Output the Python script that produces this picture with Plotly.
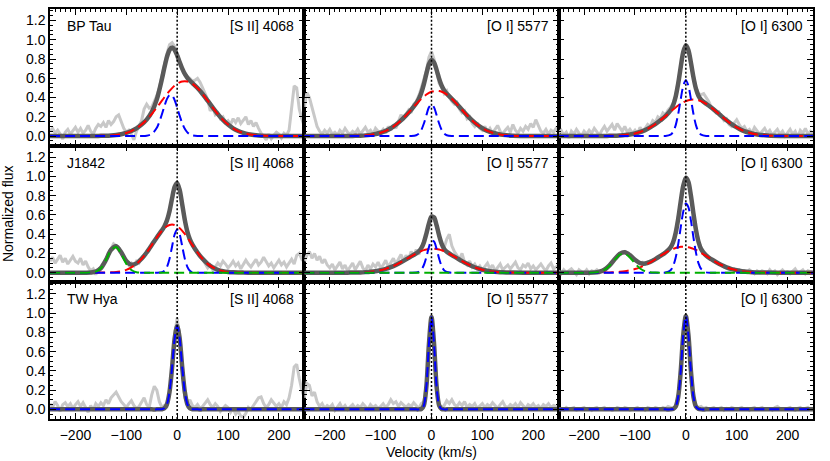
import plotly.graph_objects as go
from plotly.subplots import make_subplots

# ---------------- data ----------------
STARS = ["BP Tau", "J1842", "TW Hya"]
LINES = ["[S II] 4068", "[O I] 5577", "[O I] 6300"]
REST_VELOCITY = 0

V_OBS = list(range(-250, 251, 5))
V_MODEL = [-250, -200, -180, -170, -160, -150, -140, -130, -120, -110,
           -100, -90, -80, -70, -60, -50, -40, -30, -25, -20,
           -15, -10, -5, 0, 5, 10, 15, 20, 25, 30,
           40, 50, 60, 70, 80, 90, 100, 110, 120, 130,
           140, 160, 200, 250]

# observed spectra (grey)
OBS_BPTAU_SII = [0.05, 0.08, 0.03, 0.06, 0.02, -0.03, 0.04, 0.07, 0.02, 0.05,
                 0.09, 0.04, 0.08, 0.03, 0.06, 0.11, 0.05, 0.02, 0.08, 0.12,
                 0.10, 0.14, 0.09, 0.16, 0.12, 0.15, 0.20, 0.22, 0.15, 0.08,
                 0.04, 0.06, 0.02, -0.04, 0.05, 0.10, 0.16, 0.28, 0.33, 0.29,
                 0.30, 0.36, 0.42, 0.50, 0.62, 0.75, 0.86, 0.95, 0.97, 0.93,
                 0.85, 0.76, 0.70, 0.64, 0.62, 0.60, 0.57, 0.58, 0.60, 0.56,
                 0.50, 0.44, 0.38, 0.26, 0.30, 0.22, 0.24, 0.18, 0.20, 0.14,
                 0.16, 0.12, 0.18, 0.14, 0.19, 0.13, 0.17, 0.20, 0.12, 0.16,
                 0.10, 0.14, 0.08, 0.03, 0.00, -0.04, 0.02, -0.03, 0.01, 0.04,
                 0.02, -0.02, 0.03, 0.01, 0.06, 0.30, 0.52, 0.50, 0.28, 0.18,
                 0.10]
OBS_BPTAU_OI5577 = [0.30, 0.45, 0.40, 0.30, 0.22, 0.10, 0.05, 0.02, 0.06, 0.03,
                    0.07, 0.02, 0.04, 0.01, 0.06, 0.03, 0.08, 0.04, 0.02, 0.05,
                    0.03, 0.07, 0.02, 0.05, 0.09, 0.04, 0.06, 0.02, 0.08, 0.05,
                    0.04, 0.07, 0.03, 0.10, 0.06, 0.12, 0.08, 0.15, 0.22, 0.18,
                    0.22, 0.27, 0.24, 0.33, 0.36, 0.42, 0.50, 0.58, 0.68, 0.82,
                    0.88, 0.80, 0.66, 0.55, 0.50, 0.44, 0.47, 0.40, 0.36, 0.33,
                    0.35, 0.28, 0.24, 0.26, 0.18, 0.20, 0.13, 0.10, 0.14, 0.08,
                    0.06, 0.10, 0.04, 0.08, 0.03, 0.07, 0.11, 0.05, 0.02, 0.06,
                    0.09, 0.04, 0.12, 0.06, 0.03, 0.08, 0.05, 0.10, 0.07, 0.13,
                    0.09, 0.17, 0.10, 0.05, 0.03, 0.07, 0.02, 0.06, 0.04, 0.08,
                    0.05]
OBS_BPTAU_OI6300 = [0.03, 0.06, 0.01, 0.04, -0.02, 0.05, 0.02, 0.07, 0.03, 0.00,
                    0.05, 0.02, 0.06, 0.03, 0.08, 0.04, 0.01, 0.06, 0.10, 0.05,
                    0.08, 0.12, 0.06, 0.13, 0.09, 0.05, 0.10, 0.04, 0.07, 0.03,
                    0.06, 0.02, 0.09, 0.05, 0.08, 0.12, 0.10, 0.16, 0.14, 0.20,
                    0.18, 0.24, 0.22, 0.27, 0.30, 0.34, 0.42, 0.56, 0.72, 0.86,
                    0.93, 0.88, 0.75, 0.62, 0.50, 0.44, 0.43, 0.44, 0.40, 0.36,
                    0.30, 0.28, 0.24, 0.25, 0.20, 0.16, 0.18, 0.12, 0.10, 0.14,
                    0.17, 0.12, 0.08, 0.10, 0.05, 0.07, 0.03, 0.09, 0.06, 0.02,
                    0.05, 0.08, 0.03, 0.06, 0.01, 0.04, 0.07, 0.02, 0.05, 0.00,
                    0.04, 0.07, 0.02, 0.05, -0.01, 0.06, 0.03, 0.08, 0.02, 0.05,
                    0.03]
OBS_J1842_SII = [0.12, 0.16, 0.10, 0.14, 0.18, 0.11, 0.15, 0.09, 0.13, 0.17,
                 0.12, 0.10, 0.15, 0.08, 0.12, 0.06, 0.02, 0.04, -0.02, 0.03,
                 0.06, 0.10, 0.14, 0.20, 0.25, 0.30, 0.28, 0.26, 0.20, 0.16,
                 0.12, 0.08, 0.10, 0.07, 0.12, 0.10, 0.15, 0.18, 0.22, 0.24,
                 0.28, 0.33, 0.36, 0.40, 0.44, 0.48, 0.54, 0.62, 0.76, 0.88,
                 0.94, 0.86, 0.70, 0.55, 0.42, 0.33, 0.30, 0.24, 0.20, 0.16,
                 0.14, 0.10, 0.05, 0.08, 0.03, 0.06, 0.10, 0.07, 0.12, 0.09,
                 0.05, 0.08, 0.12, 0.07, 0.10, 0.04, 0.08, 0.13, 0.09, 0.06,
                 0.10, 0.14, 0.08, 0.11, 0.16, 0.12, 0.07, 0.10, 0.05, 0.09,
                 0.13, 0.08, 0.11, 0.06, 0.10, 0.14, 0.09, 0.18, 0.20, 0.14,
                 0.16]
OBS_J1842_OI5577 = [0.12, 0.18, 0.22, 0.15, 0.20, 0.13, 0.17, 0.10, 0.14, 0.08,
                    0.05, 0.09, 0.03, 0.07, 0.11, 0.04, 0.08, 0.02, 0.06, 0.10,
                    0.03, 0.07, 0.12, 0.05, 0.02, 0.08, 0.04, 0.09, 0.06, 0.11,
                    0.05, 0.08, 0.13, 0.06, 0.10, 0.15, 0.09, 0.14, 0.19, 0.12,
                    0.18, 0.14, 0.22, 0.17, 0.24, 0.19, 0.27, 0.33, 0.40, 0.50,
                    0.58, 0.56, 0.47, 0.38, 0.30, 0.26, 0.35, 0.40, 0.28, 0.22,
                    0.18, 0.14, 0.20, 0.11, 0.08, 0.12, 0.06, 0.09, 0.04, 0.07,
                    0.03, 0.06, 0.10, 0.04, 0.08, 0.02, 0.05, 0.09, 0.03, 0.06,
                    0.08, 0.04, 0.07, 0.11, 0.05, 0.03, 0.08, 0.06, 0.10, 0.04,
                    0.07, 0.03, 0.06, 0.09, 0.05, 0.02, 0.07, 0.10, 0.04, 0.06,
                    0.08]
OBS_J1842_OI6300 = [0.02, -0.01, 0.03, 0.00, 0.02, 0.04, 0.01, -0.02, 0.03, 0.01,
                    0.00, 0.03, -0.01, 0.02, 0.01, 0.03, 0.00, 0.02, 0.04, 0.05,
                    0.08, 0.11, 0.14, 0.17, 0.20, 0.21, 0.22, 0.20, 0.18, 0.16,
                    0.13, 0.12, 0.10, 0.11, 0.09, 0.11, 0.12, 0.13, 0.14, 0.16,
                    0.18, 0.20, 0.21, 0.24, 0.28, 0.31, 0.42, 0.57, 0.75, 0.90,
                    0.99, 0.95, 0.80, 0.62, 0.45, 0.33, 0.26, 0.22, 0.19, 0.16,
                    0.14, 0.12, 0.11, 0.09, 0.08, 0.06, 0.05, 0.05, 0.03, 0.04,
                    0.02, 0.03, 0.01, 0.02, 0.00, 0.03, 0.01, -0.01, 0.02, 0.00,
                    0.02, 0.01, -0.01, 0.03, 0.00, 0.02, -0.02, 0.01, 0.03, 0.00,
                    0.01, -0.01, 0.02, 0.04, 0.00, 0.01, 0.03, -0.01, 0.02, 0.01,
                    0.00]
OBS_TWHYA_SII = [0.06, 0.02, 0.08, 0.04, -0.02, 0.05, 0.07, 0.03, 0.06, 0.01,
                 0.05, 0.08, 0.03, 0.07, 0.02, -0.03, 0.04, -0.01, 0.06, 0.03,
                 0.07, 0.04, 0.10, 0.06, 0.12, 0.15, 0.18, 0.13, 0.08, 0.05,
                 0.02, 0.06, 0.09, 0.04, 0.01, 0.03, 0.07, 0.12, 0.05, 0.02,
                 0.15, 0.24, 0.20, 0.08, 0.02, 0.04, 0.03, 0.16, 0.45, 0.78,
                 0.95, 0.76, 0.42, 0.12, 0.06, 0.10, 0.04, 0.02, 0.05, 0.01,
                 0.03, 0.07, 0.10, 0.05, 0.02, 0.06, 0.03, -0.02, 0.01, 0.04,
                 0.02, -0.03, 0.01, -0.05, -0.02, -0.07, -0.08, -0.04, 0.02, 0.00,
                 0.04, 0.08, 0.12, 0.13, 0.06, 0.02, 0.05, 0.10, 0.07, 0.03,
                 0.06, 0.02, 0.08, 0.05, 0.12, 0.25, 0.44, 0.47, 0.32, 0.20,
                 0.12]
OBS_TWHYA_OI5577 = [0.12, 0.27, 0.25, 0.14, 0.18, 0.08, 0.03, 0.06, 0.01, 0.04,
                    0.02, 0.05, -0.01, 0.03, 0.06, 0.01, 0.04, 0.00, 0.03, 0.05,
                    0.01, 0.04, 0.02, 0.06, 0.03, 0.00, 0.05, 0.02, 0.04, 0.01,
                    0.03, 0.06, 0.02, 0.05, 0.10, 0.06, 0.08, 0.03, 0.07, 0.04,
                    0.02, 0.05, 0.03, 0.07, 0.04, 0.01, 0.06, 0.08, 0.25, 0.70,
                    0.95, 0.66, 0.22, 0.05, 0.02, 0.04, 0.09, 0.06, 0.10, 0.05,
                    0.03, 0.07, 0.04, 0.08, 0.02, 0.05, 0.03, 0.06, 0.01, 0.04,
                    0.06, 0.02, 0.05, 0.03, 0.07, 0.04, 0.01, 0.05, 0.08, 0.03,
                    0.02, 0.05, 0.03, 0.06, 0.02, 0.07, 0.04, 0.01, 0.05, 0.03,
                    0.06, 0.02, 0.04, 0.01, 0.05, 0.03, 0.06, 0.02, 0.04, 0.03,
                    0.02]
OBS_TWHYA_OI6300 = [0.00, 0.01, -0.01, 0.02, 0.00, 0.01, 0.02, -0.01, 0.00, 0.01,
                    0.02, 0.00, 0.01, -0.01, 0.01, 0.02, 0.00, 0.01, 0.02, 0.00,
                    0.01, -0.01, 0.00, 0.02, 0.01, 0.00, 0.02, 0.01, -0.01, 0.00,
                    0.01, 0.02, 0.00, 0.01, -0.01, 0.02, 0.01, 0.00, 0.02, 0.01,
                    0.00, 0.02, 0.01, 0.03, 0.02, 0.01, 0.02, 0.14, 0.40, 0.78,
                    0.97, 0.77, 0.40, 0.13, 0.03, 0.02, 0.03, 0.01, 0.02, 0.00,
                    0.01, 0.02, 0.00, 0.01, 0.02, -0.01, 0.01, 0.00, 0.02, 0.01,
                    0.00, 0.01, 0.02, 0.00, 0.01, -0.01, 0.01, 0.02, 0.00, 0.01,
                    0.02, 0.00, 0.01, 0.01, -0.01, 0.02, 0.03, 0.01, 0.00, 0.01,
                    0.01, 0.02, 0.00, -0.01, 0.01, 0.02, 0.00, 0.01, 0.02, 0.00,
                    0.01]

# model fits on V_MODEL: total (dark grey), broad (red), narrow (blue), high-velocity (green)
TOT_BPTAU_SII = [0, 0, 0, 0, 0.001, 0.002, 0.003, 0.006, 0.011, 0.019,
                 0.032, 0.052, 0.080, 0.119, 0.171, 0.249, 0.381, 0.593, 0.715, 0.823,
                 0.895, 0.919, 0.896, 0.838, 0.767, 0.700, 0.645, 0.605, 0.575, 0.550,
                 0.499, 0.437, 0.367, 0.296, 0.228, 0.168, 0.119, 0.080, 0.052, 0.032,
                 0.019, 0.006, 0, 0]
BC_BPTAU_SII = [0, 0, 0, 0, 0.001, 0.002, 0.003, 0.006, 0.011, 0.019,
                0.032, 0.052, 0.080, 0.119, 0.168, 0.228, 0.296, 0.367, 0.403, 0.437,
                0.469, 0.498, 0.523, 0.543, 0.558, 0.567, 0.570, 0.567, 0.558, 0.543,
                0.498, 0.437, 0.367, 0.296, 0.228, 0.168, 0.119, 0.080, 0.052, 0.032,
                0.019, 0.006, 0, 0]
NC_BPTAU_SII = [0, 0, 0, 0, 0, 0, 0, 0, 0, 0,
                0, 0, 0, 0, 0.003, 0.021, 0.085, 0.226, 0.312, 0.386,
                0.426, 0.421, 0.373, 0.295, 0.209, 0.133, 0.075, 0.038, 0.017, 0.007,
                0.001, 0, 0, 0, 0, 0, 0, 0, 0, 0,
                0, 0, 0, 0]

TOT_BPTAU_OI5577 = [0, 0, 0, 0, 0.001, 0.002, 0.004, 0.007, 0.012, 0.021,
                    0.034, 0.054, 0.081, 0.117, 0.162, 0.215, 0.273, 0.340, 0.385, 0.450,
                    0.540, 0.649, 0.746, 0.790, 0.765, 0.688, 0.597, 0.523, 0.473, 0.439,
                    0.387, 0.332, 0.273, 0.215, 0.162, 0.117, 0.081, 0.054, 0.034, 0.021,
                    0.012, 0.004, 0, 0]
BC_BPTAU_OI5577 = [0, 0, 0, 0, 0.001, 0.002, 0.004, 0.007, 0.012, 0.021,
                   0.034, 0.054, 0.081, 0.117, 0.162, 0.215, 0.273, 0.332, 0.360, 0.387,
                   0.410, 0.431, 0.448, 0.460, 0.467, 0.470, 0.467, 0.460, 0.448, 0.431,
                   0.387, 0.332, 0.273, 0.215, 0.162, 0.117, 0.081, 0.054, 0.034, 0.021,
                   0.012, 0.004, 0, 0]
NC_BPTAU_OI5577 = [0, 0, 0, 0, 0, 0, 0, 0, 0, 0,
                   0, 0, 0, 0, 0, 0, 0, 0.008, 0.025, 0.063,
                   0.130, 0.218, 0.298, 0.330, 0.298, 0.218, 0.130, 0.063, 0.025, 0.008,
                   0, 0, 0, 0, 0, 0, 0, 0, 0, 0,
                   0, 0, 0, 0]

TOT_BPTAU_OI6300 = [0, 0, 0, 0, 0.001, 0.002, 0.003, 0.006, 0.010, 0.017,
                    0.027, 0.042, 0.062, 0.090, 0.123, 0.163, 0.207, 0.267, 0.320, 0.408,
                    0.546, 0.719, 0.874, 0.943, 0.895, 0.762, 0.609, 0.489, 0.416, 0.377,
                    0.335, 0.297, 0.253, 0.207, 0.163, 0.123, 0.090, 0.062, 0.042, 0.027,
                    0.017, 0.006, 0, 0]
BC_BPTAU_OI6300 = [0, 0, 0, 0, 0.001, 0.002, 0.003, 0.006, 0.010, 0.017,
                   0.027, 0.042, 0.062, 0.090, 0.123, 0.163, 0.207, 0.253, 0.276, 0.297,
                   0.317, 0.335, 0.351, 0.363, 0.372, 0.378, 0.380, 0.378, 0.372, 0.363,
                   0.335, 0.297, 0.253, 0.207, 0.163, 0.123, 0.090, 0.062, 0.042, 0.027,
                   0.017, 0.006, 0, 0]
NC_BPTAU_OI6300 = [0, 0, 0, 0, 0, 0, 0, 0, 0, 0,
                   0, 0, 0, 0, 0, 0, 0, 0.014, 0.044, 0.111,
                   0.229, 0.384, 0.523, 0.580, 0.523, 0.384, 0.229, 0.111, 0.044, 0.014,
                   0, 0, 0, 0, 0, 0, 0, 0, 0, 0,
                   0, 0, 0, 0]

TOT_J1842_SII = [0, 0, 0, 0.002, 0.011, 0.048, 0.133, 0.238, 0.276, 0.212,
                 0.122, 0.083, 0.097, 0.145, 0.210, 0.287, 0.366, 0.440, 0.482, 0.544,
                 0.642, 0.773, 0.893, 0.933, 0.859, 0.708, 0.549, 0.427, 0.347, 0.292,
                 0.210, 0.144, 0.092, 0.055, 0.030, 0.016, 0.008, 0.004, 0.002, 0.001,
                 0, 0, 0, 0]
BC_J1842_SII = [0, 0, 0, 0, 0, 0.001, 0.002, 0.004, 0.008, 0.016,
                0.030, 0.055, 0.092, 0.144, 0.210, 0.287, 0.366, 0.435, 0.462, 0.483,
                0.496, 0.500, 0.496, 0.483, 0.462, 0.435, 0.403, 0.366, 0.327, 0.287,
                0.210, 0.144, 0.092, 0.055, 0.030, 0.016, 0.008, 0.004, 0.002, 0.001,
                0, 0, 0, 0]
NC_J1842_SII = [0, 0, 0, 0, 0, 0, 0, 0, 0, 0,
                0, 0, 0, 0, 0, 0, 0, 0.005, 0.020, 0.061,
                0.146, 0.273, 0.397, 0.450, 0.397, 0.273, 0.146, 0.061, 0.020, 0.005,
                0, 0, 0, 0, 0, 0, 0, 0, 0, 0,
                0, 0, 0, 0]
HV_J1842_SII = [0, 0, 0, 0.002, 0.011, 0.047, 0.131, 0.234, 0.268, 0.196,
                0.092, 0.028, 0.005, 0.001, 0, 0, 0, 0, 0, 0,
                0, 0, 0, 0, 0, 0, 0, 0, 0, 0,
                0, 0, 0, 0, 0, 0, 0, 0, 0, 0,
                0, 0, 0, 0]

TOT_J1842_OI5577 = [0, 0, 0, 0, 0.001, 0.002, 0.003, 0.006, 0.010, 0.016,
                    0.026, 0.040, 0.058, 0.081, 0.109, 0.139, 0.170, 0.202, 0.222, 0.255,
                    0.315, 0.407, 0.513, 0.583, 0.575, 0.494, 0.387, 0.300, 0.247, 0.218,
                    0.183, 0.152, 0.120, 0.092, 0.067, 0.047, 0.031, 0.020, 0.012, 0.007,
                    0.004, 0.001, 0, 0]
BC_J1842_OI5577 = [0, 0, 0, 0, 0.001, 0.002, 0.003, 0.006, 0.010, 0.016,
                   0.026, 0.040, 0.058, 0.081, 0.109, 0.139, 0.170, 0.200, 0.213, 0.225,
                   0.235, 0.242, 0.247, 0.250, 0.250, 0.247, 0.241, 0.233, 0.223, 0.211,
                   0.183, 0.152, 0.120, 0.092, 0.067, 0.047, 0.031, 0.020, 0.012, 0.007,
                   0.004, 0.001, 0, 0]
NC_J1842_OI5577 = [0, 0, 0, 0, 0, 0, 0, 0, 0, 0,
                   0, 0, 0, 0, 0, 0, 0, 0.002, 0.009, 0.030,
                   0.080, 0.165, 0.266, 0.333, 0.325, 0.247, 0.146, 0.067, 0.024, 0.007,
                   0, 0, 0, 0, 0, 0, 0, 0, 0, 0,
                   0, 0, 0, 0]
HV_J1842_OI5577 = [0] * 44

TOT_J1842_OI6300 = [0, 0, 0.002, 0.010, 0.031, 0.076, 0.139, 0.196, 0.213, 0.183,
                    0.134, 0.100, 0.095, 0.112, 0.141, 0.174, 0.209, 0.262, 0.317, 0.413,
                    0.560, 0.742, 0.905, 0.987, 0.945, 0.800, 0.613, 0.442, 0.319, 0.246,
                    0.178, 0.140, 0.108, 0.080, 0.056, 0.038, 0.025, 0.015, 0.009, 0.005,
                    0.003, 0.001, 0, 0]
BC_J1842_OI6300 = [0, 0, 0, 0.001, 0.001, 0.003, 0.005, 0.009, 0.015, 0.025,
                   0.038, 0.056, 0.080, 0.108, 0.140, 0.174, 0.207, 0.236, 0.248, 0.257,
                   0.264, 0.269, 0.270, 0.269, 0.264, 0.257, 0.248, 0.236, 0.222, 0.207,
                   0.174, 0.140, 0.108, 0.080, 0.056, 0.038, 0.025, 0.015, 0.009, 0.005,
                   0.003, 0.001, 0, 0]
NC_J1842_OI6300 = [0, 0, 0, 0, 0, 0, 0, 0, 0, 0,
                   0, 0, 0, 0, 0, 0, 0.002, 0.026, 0.069, 0.156,
                   0.296, 0.473, 0.635, 0.718, 0.681, 0.543, 0.365, 0.206, 0.097, 0.039,
                   0.004, 0, 0, 0, 0, 0, 0, 0, 0, 0,
                   0, 0, 0, 0]
HV_J1842_OI6300 = [0, 0, 0.002, 0.009, 0.030, 0.073, 0.134, 0.187, 0.198, 0.158,
                   0.096, 0.044, 0.015, 0.004, 0.001, 0, 0, 0, 0, 0,
                   0, 0, 0, 0, 0, 0, 0, 0, 0, 0,
                   0, 0, 0, 0, 0, 0, 0, 0, 0, 0,
                   0, 0, 0, 0]

NC_TWHYA_SII = [0, 0, 0, 0, 0, 0, 0, 0, 0, 0,
                0, 0, 0, 0, 0, 0, 0, 0.002, 0.011, 0.055,
                0.183, 0.435, 0.732, 0.870, 0.732, 0.435, 0.183, 0.055, 0.011, 0.002,
                0, 0, 0, 0, 0, 0, 0, 0, 0, 0,
                0, 0, 0, 0]
NC_TWHYA_OI5577 = [0, 0, 0, 0, 0, 0, 0, 0, 0, 0,
                   0, 0, 0, 0, 0, 0, 0, 0, 0, 0.004,
                   0.042, 0.240, 0.680, 0.960, 0.680, 0.240, 0.042, 0.004, 0, 0,
                   0, 0, 0, 0, 0, 0, 0, 0, 0, 0,
                   0, 0, 0, 0]
NC_TWHYA_OI6300 = [0, 0, 0, 0, 0, 0, 0, 0, 0, 0,
                   0, 0, 0, 0, 0, 0, 0, 0, 0.004, 0.028,
                   0.131, 0.399, 0.777, 0.970, 0.777, 0.399, 0.131, 0.028, 0.004, 0,
                   0, 0, 0, 0, 0, 0, 0, 0, 0, 0,
                   0, 0, 0, 0]

PANELS = {
    (1, 1): dict(obs=OBS_BPTAU_SII, tot=TOT_BPTAU_SII, bc=BC_BPTAU_SII, nc=NC_BPTAU_SII, hv=None),
    (1, 2): dict(obs=OBS_BPTAU_OI5577, tot=TOT_BPTAU_OI5577, bc=BC_BPTAU_OI5577, nc=NC_BPTAU_OI5577, hv=None),
    (1, 3): dict(obs=OBS_BPTAU_OI6300, tot=TOT_BPTAU_OI6300, bc=BC_BPTAU_OI6300, nc=NC_BPTAU_OI6300, hv=None),
    (2, 1): dict(obs=OBS_J1842_SII, tot=TOT_J1842_SII, bc=BC_J1842_SII, nc=NC_J1842_SII, hv=HV_J1842_SII),
    (2, 2): dict(obs=OBS_J1842_OI5577, tot=TOT_J1842_OI5577, bc=BC_J1842_OI5577, nc=NC_J1842_OI5577, hv=HV_J1842_OI5577),
    (2, 3): dict(obs=OBS_J1842_OI6300, tot=TOT_J1842_OI6300, bc=BC_J1842_OI6300, nc=NC_J1842_OI6300, hv=HV_J1842_OI6300),
    (3, 1): dict(obs=OBS_TWHYA_SII, tot=NC_TWHYA_SII, bc=None, nc=NC_TWHYA_SII, hv=None),
    (3, 2): dict(obs=OBS_TWHYA_OI5577, tot=NC_TWHYA_OI5577, bc=None, nc=NC_TWHYA_OI5577, hv=None),
    (3, 3): dict(obs=OBS_TWHYA_OI6300, tot=NC_TWHYA_OI6300, bc=None, nc=NC_TWHYA_OI6300, hv=None),
}

for key, p in PANELS.items():
    assert len(p["obs"]) == len(V_OBS), (key, "obs", len(p["obs"]))
    for k in ("tot", "bc", "nc", "hv"):
        if p[k] is not None:
            assert len(p[k]) == len(V_MODEL), (key, k, len(p[k]))

# ---------------- figure ----------------
FONT = "Liberation Sans"
C_OBS = "#c8c8c8"
C_TOT = "#5a5a5a"
C_BC = "#ff0000"
C_NC = "#0000ff"
C_HV = "#00b000"
DASH = "10px,5px"

fig = make_subplots(rows=3, cols=3, horizontal_spacing=0, vertical_spacing=0)

for (r, c), p in PANELS.items():
    fig.add_trace(go.Scatter(x=V_OBS, y=p["obs"], mode="lines",
                             line=dict(color=C_OBS, width=3), hoverinfo="skip"), row=r, col=c)
    fig.add_trace(go.Scatter(x=V_MODEL, y=p["tot"], mode="lines",
                             line=dict(color=C_TOT, width=4.5, shape="spline", smoothing=0.8)), row=r, col=c)
    if p["bc"] is not None:
        fig.add_trace(go.Scatter(x=V_MODEL, y=p["bc"], mode="lines",
                                 line=dict(color=C_BC, width=2, dash=DASH, shape="spline", smoothing=0.8)), row=r, col=c)
    fig.add_trace(go.Scatter(x=V_MODEL, y=p["nc"], mode="lines",
                             line=dict(color=C_NC, width=2, dash=DASH, shape="spline", smoothing=0.8)), row=r, col=c)
    if p["hv"] is not None:
        fig.add_trace(go.Scatter(x=V_MODEL, y=p["hv"], mode="lines",
                                 line=dict(color=C_HV, width=2, dash=DASH, shape="spline", smoothing=0.8)), row=r, col=c)

axis_common = dict(ticks="inside", ticklen=6, tickwidth=1, tickcolor="black",
                   showline=True, linecolor="black", linewidth=1.5, mirror="allticks",
                   showgrid=False, zeroline=False,
                   tickfont=dict(family=FONT, size=14, color="black"))

fig.update_xaxes(range=[-250, 250], tick0=0, dtick=100, showticklabels=False,
                 minor=dict(ticks="inside", dtick=10, ticklen=3, tickcolor="black", showgrid=False),
                 **axis_common)
fig.update_yaxes(range=[-0.1, 1.32], tick0=0, dtick=0.2, tickformat=".1f", showticklabels=False,
                 minor=dict(ticks="inside", dtick=0.05, ticklen=3, tickcolor="black", showgrid=False),
                 **axis_common)
for c in (1, 2, 3):
    fig.update_xaxes(showticklabels=True, ticklabelstandoff=2, row=3, col=c)
for r in (1, 2, 3):
    fig.update_yaxes(showticklabels=True, row=r, col=1)

annotations = []
shapes = []
for r in (1, 2, 3):
    for c in (1, 2, 3):
        n = (r - 1) * 3 + c
        xr = "x" if n == 1 else f"x{n}"
        yr = "y" if n == 1 else f"y{n}"
        shapes.append(dict(type="line", xref=xr, yref=f"{yr} domain",
                           x0=REST_VELOCITY, x1=REST_VELOCITY, y0=0, y1=1,
                           line=dict(color="black", width=1.5, dash="2px,2px")))
        annotations.append(dict(xref=f"{xr} domain", yref=f"{yr} domain", x=0.968, y=0.876,
                                xanchor="right", yanchor="middle", showarrow=False,
                                text=LINES[c - 1], font=dict(family=FONT, size=14, color="black")))
        if c == 1:
            annotations.append(dict(xref=f"{xr} domain", yref=f"{yr} domain", x=0.06, y=0.876,
                                    xanchor="left", yanchor="middle", showarrow=False,
                                    text=STARS[r - 1], font=dict(family=FONT, size=14, color="black")))

annotations.append(dict(xref="paper", yref="paper", x=-0.055, y=0.5, textangle=-90,
                        xanchor="center", yanchor="middle", showarrow=False,
                        text="Normalized flux", font=dict(family=FONT, size=14, color="black")))
annotations.append(dict(xref="paper", yref="paper", x=0.5, y=-0.080,
                        xanchor="center", yanchor="middle", showarrow=False,
                        text="Velocity (km/s)", font=dict(family=FONT, size=14, color="black")))

fig.update_layout(width=830, height=461, margin=dict(l=50, r=17, t=7, b=42),
                  plot_bgcolor="white", paper_bgcolor="white", showlegend=False,
                  font=dict(family=FONT, size=14, color="black"),
                  annotations=annotations, shapes=shapes)

# remove the default page margin so the figure sits at the window's top-left corner
fig.write_html("out.html", config={"displayModeBar": False},
               post_script="document.body.style.margin='0';")
